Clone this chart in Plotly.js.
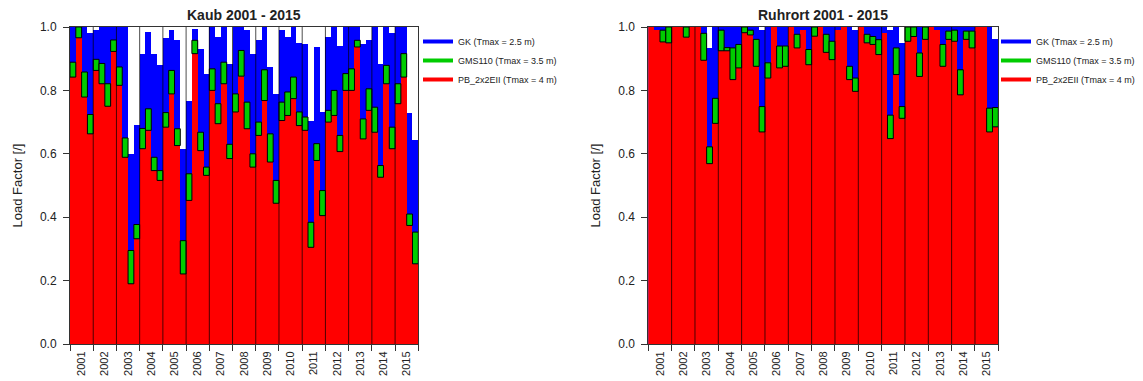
<!DOCTYPE html>
<html><head><meta charset="utf-8">
<script src="https://cdn.plot.ly/plotly-3.0.1.min.js"></script>
<style>html,body{margin:0;padding:0;background:#fff}</style>
</head><body><div id="chart" style="width:1143px;height:381px"></div>
<script>
const years = [2001,2002,2003,2004,2005,2006,2007,2008,2009,2010,2011,2012,2013,2014,2015];
const quarters = [1,2,3,4];
const seriesNames = ['GK (Tmax = 2.5 m)','GMS110 (Tmax = 3.5 m)','PB_2x2EII (Tmax = 4 m)'];
const panelTitles = ['Kaub 2001 - 2015','Ruhrort 2001 - 2015'];
const yTitle = 'Load Factor [/]';

// Kaub, 4 values per year
const kaubGK = [1.0,1.0,1.0,0.98, 0.99,1.0,1.0,1.0, 1.0,1.0,0.6,0.69, 0.916,0.984,0.916,0.879,
  0.965,0.99,0.958,0.616, 0.768,0.995,0.93,0.853, 1.0,0.97,1.0,0.884, 1.0,1.0,0.99,0.916,
  0.958,1.0,0.874,0.79, 0.99,0.97,1.0,0.95, 0.947,0.705,0.937,0.732, 0.97,1.0,0.94,1.0,
  1.0,1.0,0.947,0.96, 1.0,0.884,1.0,0.98, 1.0,1.0,0.728,0.642];
const kaubGMS = [0.889,1.0,0.858,0.724, 0.898,0.885,0.821,0.959, 0.874,0.65,0.295,0.377, 0.68,0.742,0.589,0.547,
  0.73,0.863,0.679,0.326, 0.537,0.958,0.668,0.558, 0.868,0.758,0.889,0.63, 0.789,0.926,0.763,0.6,
  0.7,0.865,0.663,0.516, 0.763,0.795,0.842,0.732, 0.716,0.384,0.632,0.484, 0.737,0.8,0.658,0.853,
  0.868,0.958,0.71,0.805, 0.747,0.563,0.879,0.684, 0.821,0.916,0.41,0.353];
const kaubPB = [0.842,0.966,0.779,0.663, 0.863,0.821,0.75,0.923, 0.816,0.589,0.19,0.332, 0.616,0.674,0.547,0.516,
  0.684,0.789,0.626,0.221, 0.453,0.916,0.61,0.532, 0.8,0.695,0.821,0.585, 0.732,0.845,0.679,0.558,
  0.658,0.768,0.574,0.444, 0.705,0.721,0.774,0.689, 0.674,0.305,0.579,0.405, 0.7,0.721,0.607,0.8,
  0.8,0.937,0.647,0.737, 0.668,0.526,0.821,0.616, 0.758,0.842,0.374,0.253];

// Ruhrort, 4 values per year
const ruhrGK = [1,1,1,1, 1,1,1,1, 1,1,0.934,1, 1,1,1,1, 1,1,1,0.99, 1,1,1,1, 1,1,1,1, 1,1,1,1,
  1,1,1,0.99, 1,1,1,1, 1,0.99,1,0.95, 1,1,1,1, 1,1,1,1, 1,1,1,1, 1,1,1,0.961];
const ruhrGMS = [1,0.99,0.99,1, 1,1,1,1, 1,0.98,0.622,0.775, 0.99,0.935,0.934,0.945,
  1,0.99,0.961,0.749, 0.887,1,0.94,0.94, 1,0.977,0.99,0.929, 1,1,0.977,0.955,
  0.99,1,0.876,0.839, 1,0.977,0.97,0.96, 0.98,0.722,0.934,0.749, 1,1,0.918,1,
  1,0.99,0.945,0.987, 0.99,0.865,0.987,0.987, 1,1,0.744,0.746];
const ruhrPB = [1,0.99,0.953,0.95, 1,1,0.968,1, 1,0.895,0.569,0.696, 0.925,0.925,0.834,0.871,
  0.982,0.975,0.876,0.669, 0.839,1,0.871,0.876, 1,0.934,0.99,0.881, 0.971,1,0.92,0.897,
  0.99,1,0.834,0.797, 1,0.95,0.945,0.913, 0.98,0.648,0.85,0.712, 0.955,0.97,0.844,0.961,
  1,0.99,0.876,0.961, 0.955,0.786,0.961,0.934, 1,1,0.669,0.685];

const BLUE = '#0000FF', GREEN = '#00CC00', RED = '#FF0000';
const FONT = 'Liberation Sans, Arial, Helvetica, sans-serif';
const qw = 1 / quarters.length;
const xs = years.flatMap(y => quarters.map(q => y + (q - 0.5) * qw));
const boundaries = years.concat([years[years.length - 1] + 1]);

function panel(gk, gms, pb, xa, ya, leg) {
  const common = {type: 'bar', x: xs, width: qw, xaxis: xa, yaxis: ya, showlegend: false, hoverinfo: 'skip'};
  const tr = [
    Object.assign({}, common, {y: gk, marker: {color: BLUE, line: {width: 0}}}),
    Object.assign({}, common, {y: pb, marker: {color: RED, line: {width: 0}}}),
    Object.assign({}, common, {y: gms.map((v, i) => (v - pb[i] > 0.001 ? v - pb[i] : null)), base: pb,
      marker: {color: GREEN, line: {width: 1, color: '#000'}}})
  ];
  [BLUE, GREEN, RED].forEach((c, i) => tr.push({type: 'scatter', mode: 'lines', x: [null], y: [null],
    name: seriesNames[i], line: {color: c, width: 4}, xaxis: xa, yaxis: ya, legend: leg, showlegend: true, hoverinfo: 'skip'}));
  return tr;
}

const data = panel(kaubGK, kaubGMS, kaubPB, 'x', 'y', 'legend')
  .concat(panel(ruhrGK, ruhrGMS, ruhrPB, 'x2', 'y2', 'legend2'));

const W = 1143, H = 381;
const yDom = [1 - 344 / H, 1 - 27 / H];
function xAxis(dom, yName) {
  return {domain: dom, anchor: yName, range: [boundaries[0], boundaries[boundaries.length - 1]],
    tickmode: 'array', tickvals: years.map(y => y + 0.5), ticktext: years.map(String), ticks: '',
    tickangle: -90, tickfont: {size: 11, color: '#222', family: FONT}, ticklabelstandoff: 2,
    minor: {tickmode: 'linear', tick0: boundaries[0], dtick: 1, ticks: 'outside', ticklen: 6, tickcolor: '#333', tickwidth: 1, showgrid: false},
    showline: true, mirror: true, linecolor: '#333', linewidth: 1, showgrid: false, zeroline: false, fixedrange: true, automargin: false};
}
function yAxis(xName) {
  return {domain: yDom, anchor: xName, range: [0, 1], tickmode: 'array', tickvals: [0, 0.2, 0.4, 0.6, 0.8, 1.0],
    tickformat: '.1f', ticks: 'outside', ticklen: 6, tickcolor: '#333', tickfont: {size: 12, color: '#222', family: FONT},
    ticklabelstandoff: 4,
    title: {text: yTitle, font: {size: 13, color: '#222', family: FONT}, standoff: 14},
    showline: true, mirror: true, linecolor: '#333', linewidth: 1, showgrid: false, zeroline: false, fixedrange: true, automargin: false};
}

const shapes = [];
['x', 'x2'].forEach((xa, k) => {
  boundaries.slice(1, -1).forEach(b => shapes.push({type: 'line', layer: 'above', xref: xa, yref: (k ? 'y2' : 'y') + ' domain',
    x0: b, x1: b, y0: 0, y1: 1, line: {color: 'rgba(0,0,0,0.7)', width: 1}}));
});

const legendCfg = x => ({x: x / W, xanchor: 'left', y: 1 - 27 / H, yanchor: 'top', bgcolor: 'rgba(0,0,0,0)',
  font: {size: 9, color: '#222', family: FONT}, tracegroupgap: 0, itemclick: false, itemdoubleclick: false});

const layout = {
  width: W, height: H, margin: {l: 0, r: 0, t: 0, b: 0}, paper_bgcolor: '#fff', plot_bgcolor: '#fff',
  barmode: 'overlay', bargap: 0, font: {family: FONT, color: '#222'},
  xaxis: xAxis([70 / W, 418.3 / W], 'y'), yaxis: yAxis('x'),
  xaxis2: xAxis([648.3 / W, 998.3 / W], 'y2'), yaxis2: yAxis('x2'),
  shapes: shapes,
  annotations: panelTitles.map((t, i) => ({text: '<b>' + t + '</b>', xref: (i ? 'x2' : 'x') + ' domain', x: 0.5,
    yref: 'paper', y: 1 - 15 / H, yanchor: 'middle', showarrow: false, font: {size: 14, color: '#222', family: FONT}})),
  legend: legendCfg(418), legend2: legendCfg(996),
  showlegend: true
};

Plotly.newPlot('chart', data, layout, {staticPlot: true, displayModeBar: false});
</script></body></html>
